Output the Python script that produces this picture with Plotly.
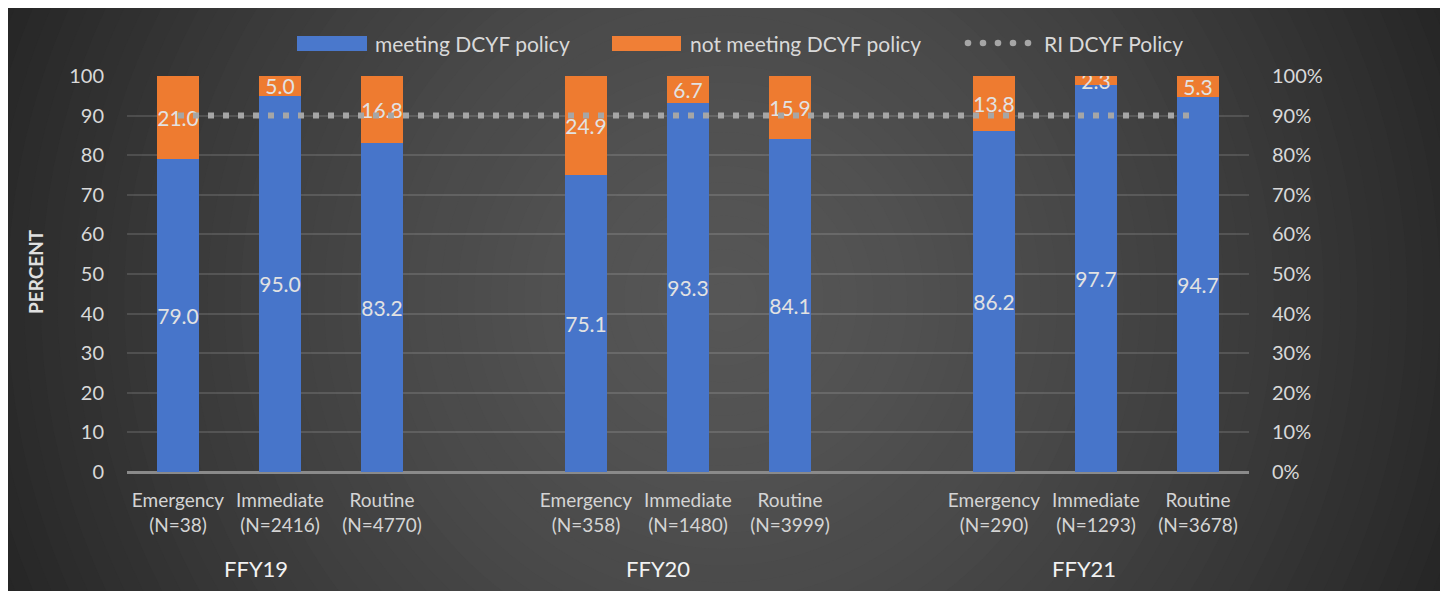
import plotly.graph_objects as go

# ---------------- data ----------------
years = ["FFY19", "FFY20", "FFY21"]
response_types = ["Emergency", "Immediate", "Routine"]
n_counts = [38, 2416, 4770, 358, 1480, 3999, 290, 1293, 3678]
meeting = [79.0, 95.0, 83.2, 75.1, 93.3, 84.1, 86.2, 97.7, 94.7]
not_meeting = [21.0, 5.0, 16.8, 24.9, 6.7, 15.9, 13.8, 2.3, 5.3]
policy_value = 90
left_ticks = [0, 10, 20, 30, 40, 50, 60, 70, 80, 90, 100]
right_ticks = [0, 0.1, 0.2, 0.3, 0.4, 0.5, 0.6, 0.7, 0.8, 0.9, 1.0]

# ---------------- build categories (with a blank slot between years) ----------------
cats, labels, y_meet, y_not = [], [], [], []
k = 0
for yi, yr in enumerate(years):
    for t in response_types:
        cats.append(f"{yr}-{t}")
        labels.append(f"{t}<br>(N={n_counts[k]})")
        y_meet.append(meeting[k])
        y_not.append(not_meeting[k])
        k += 1
    if yi < len(years) - 1:
        cats.append(" " * (yi + 1))
        labels.append("")
        y_meet.append(None)
        y_not.append(None)
policy = [policy_value for _ in cats]

FONT = "Lato"
OFF = 8                      # page body margin
W, H = 1433, 583             # figure size
# page-coordinate plot area: x 127..1249, y 76..472
L, T = 127 - OFF, 76 - OFF
R = W - (1249 - OFF)
B = H - (472 - OFF)
PW, PH = W - L - R, H - T - B


def px(x):  # page x -> paper
    return (x - OFF - L) / PW


def py(y):  # page y -> paper
    return (H - B - (y - OFF)) / PH


fig = go.Figure()

fig.add_trace(go.Bar(
    x=cats, y=y_meet, name="meeting DCYF policy",
    marker=dict(color="#4775ca", line=dict(width=0)),
    text=[f"{v:.1f}" if v is not None else "" for v in y_meet],
    textposition="inside", insidetextanchor="middle", textangle=0,
    constraintext="none",
    textfont=dict(family=FONT, size=21, color="#e2e2e2"),
    showlegend=False, hoverinfo="skip",
))
fig.add_trace(go.Bar(
    x=cats, y=y_not, name="not meeting DCYF policy",
    marker=dict(color="#ee7b30", line=dict(width=0)),
    text=[f"{v:.1f}" if v is not None else "" for v in y_not],
    textposition="inside", insidetextanchor="middle", textangle=0,
    constraintext="none",
    textfont=dict(family=FONT, size=21, color="#e2e2e2"),
    showlegend=False, hoverinfo="skip",
))
fig.add_trace(go.Scatter(
    x=cats, y=policy, name="RI DCYF Policy", mode="lines",
    line=dict(color="#a6a6a6", width=6, dash="6px,9px"),
    showlegend=False, hoverinfo="skip",
))
# trace to anchor the right-hand percent axis
fig.add_trace(go.Scatter(x=[cats[0]], y=[None], yaxis="y2", showlegend=False, hoverinfo="skip"))

# ---------------- background: radial gradient ----------------
shapes = []
cx, cy = 724, 299
steps = 48
rmax = 800
for i in range(steps):
    r = rmax * (1 - i / steps)
    f = (r / 780) ** 1.5
    c = int(round(86 - 48 * min(f, 1.0)))
    col = f"rgb({c},{c},{c})"
    shapes.append(dict(type="circle", xref="paper", yref="paper", layer="below",
                       x0=px(cx - r), x1=px(cx + r), y0=py(cy + r), y1=py(cy - r),
                       fillcolor=col, line=dict(width=0)))

# ---------------- custom legend ----------------
ly = 43
shapes.append(dict(type="rect", xref="paper", yref="paper", x0=px(297), x1=px(367),
                   y0=py(51), y1=py(36), fillcolor="#4a78cc", line=dict(width=0)))
shapes.append(dict(type="rect", xref="paper", yref="paper", x0=px(612), x1=px(681),
                   y0=py(51), y1=py(36), fillcolor="#f07f36", line=dict(width=0)))
for dxc in [968, 983, 998, 1013, 1028]:
    shapes.append(dict(type="circle", xref="paper", yref="paper",
                       x0=px(dxc - 3.3), x1=px(dxc + 3.3), y0=py(ly + 3.3), y1=py(ly - 3.3),
                       fillcolor="#a6a6a6", line=dict(width=0)))

annotations = []
for xx, txt in [(373, "meeting DCYF policy"), (688, "not meeting DCYF policy"), (1042, "RI DCYF Policy")]:
    annotations.append(dict(x=px(xx), y=py(ly), xref="paper", yref="paper", text=txt,
                            showarrow=False, xanchor="left", yanchor="middle",
                            font=dict(family=FONT, size=21, color="#d9d9d9")))

# group labels
for xx, yr in zip([256, 658, 1084], years):
    annotations.append(dict(x=px(xx), y=py(568), xref="paper", yref="paper", text=yr,
                            showarrow=False, xanchor="center", yanchor="middle",
                            font=dict(family=FONT, size=22, color="#f2f2f2")))
# axis title
annotations.append(dict(x=px(35), y=py(272), xref="paper", yref="paper", text="<b>PERCENT</b>",
                        showarrow=False, textangle=-90, xanchor="center", yanchor="middle",
                        font=dict(family=FONT, size=19, color="#e0e0e0")))

fig.update_layout(
    width=W, height=H,
    margin=dict(l=L, r=R, t=T, b=B, autoexpand=False),
    paper_bgcolor="#262626", plot_bgcolor="rgba(0,0,0,0)",
    barmode="stack", bargap=0.59,
    shapes=shapes, annotations=annotations,
    font=dict(family=FONT, color="#d9d9d9"),
    xaxis=dict(type="category", categoryorder="array", categoryarray=cats,
               tickvals=cats, ticktext=labels, showgrid=False, showline=False,
               zeroline=False, ticks="", ticklabelstandoff=15,
               tickfont=dict(family=FONT, size=19, color="#d4d4d4"),
               range=[-0.5, len(cats) - 0.5], fixedrange=True),
    yaxis=dict(range=[0, 100], tickvals=left_ticks, showgrid=True,
               gridcolor="rgba(255,255,255,0.13)", gridwidth=1.5,
               zeroline=True, zerolinecolor="#8a8a8a", zerolinewidth=2.5,
               showline=False, ticks="", ticklabelstandoff=22,
               tickfont=dict(family=FONT, size=20, color="#d9d9d9"), fixedrange=True),
    yaxis2=dict(range=[0, 1], tickvals=right_ticks, tickformat=".0%", overlaying="y",
                side="right", showgrid=False, zeroline=False, showline=False, ticks="",
                ticklabelstandoff=22,
                tickfont=dict(family=FONT, size=20, color="#d9d9d9"), fixedrange=True),
    showlegend=False,
)

fig.write_html("out.html")
